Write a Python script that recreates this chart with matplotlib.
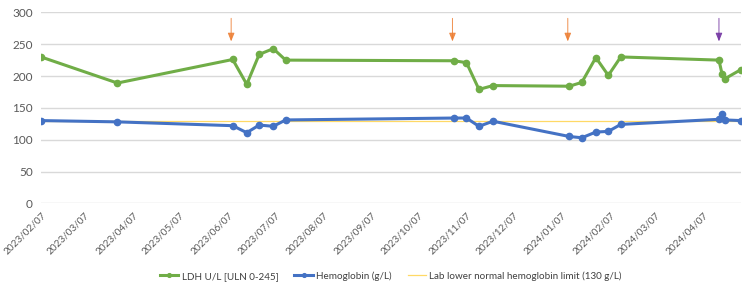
import matplotlib
matplotlib.use('Agg')
import matplotlib.pyplot as plt
import matplotlib.dates as mdates
import pandas as pd

plt.rcParams['font.family'] = ['Lato', 'DejaVu Sans']

# LDH and hemoglobin share the same visit dates
dates = pd.to_datetime([
    '2023-02-07', '2023-03-28', '2023-06-10', '2023-06-19', '2023-06-27',
    '2023-07-06', '2023-07-14', '2023-10-30', '2023-11-07', '2023-11-15',
    '2023-11-24', '2024-01-12', '2024-01-20', '2024-01-29', '2024-02-06',
    '2024-02-14', '2024-04-17', '2024-04-19', '2024-04-21', '2024-05-01',
])
ldh = [230, 189, 226, 187, 234, 243, 225, 224, 221, 179,
       185, 184, 190, 229, 201, 230, 225, 203, 196, 210]
hgb = [130, 128, 122, 111, 123, 121, 131, 134, 134, 121,
       129, 105, 103, 112, 113, 124, 132, 140, 131, 130]
hgb_limit = 130

# treatment markers (arrows on top)
arrow_dates = pd.to_datetime(['2023-06-09', '2023-10-29', '2024-01-11', '2024-04-17'])
arrow_colors = ['#ED7D31', '#ED7D31', '#ED7D31', '#7030A0']

tick_dates = pd.date_range('2023-02-01', '2024-04-01', freq='MS') + pd.Timedelta(days=6)

fig = plt.figure(figsize=(7.5, 2.88), dpi=100)
ax = fig.add_axes([0.0547, 0.294, 0.933, 0.663])

ax.plot(dates, ldh, color='#70AD47', lw=2.2, marker='o', ms=4.5,
        label='LDH U/L [ULN 0-245]', zorder=3)
ax.plot(dates, hgb, color='#4472C4', lw=2.2, marker='o', ms=4.5,
        label='Hemoglobin (g/L)', zorder=3)
ax.plot([dates[0], dates[-1]], [hgb_limit, hgb_limit], color='#FFD966', lw=0.9,
        label='Lab lower normal hemoglobin limit (130 g/L)', zorder=2)

for d, c in zip(arrow_dates, arrow_colors):
    ax.annotate('', xy=(d, 250), xytext=(d, 295),
                arrowprops=dict(arrowstyle='-|>,head_length=0.5,head_width=0.2',
                                color=c, lw=0.7, alpha=0.85), zorder=4)

ax.set_ylim(0, 300)
ax.set_yticks(range(0, 301, 50))
ax.set_xlim(dates[0], dates[-1])
ax.set_xticks(tick_dates)
ax.xaxis.set_major_formatter(mdates.DateFormatter('%Y/%m/%d'))

ax.grid(axis='y', color='#D9D9D9', lw=1)
ax.set_axisbelow(True)
for sp in ax.spines.values():
    sp.set_visible(False)
ax.tick_params(length=0, labelsize=8.5, colors='#595959', pad=6)
ax.tick_params(axis='x', pad=5)
plt.setp(ax.get_xticklabels(), rotation=45, ha='right', va='top',
         rotation_mode='anchor', fontsize=7.2)

fig.legend(loc='center', bbox_to_anchor=(391 / 750, 0.042), ncol=3, frameon=False,
           fontsize=7.1, labelcolor='#404040', handlelength=1.85, handletextpad=0.35,
           columnspacing=1.6, markerscale=0.6)

fig.savefig('out.png', dpi=100)
